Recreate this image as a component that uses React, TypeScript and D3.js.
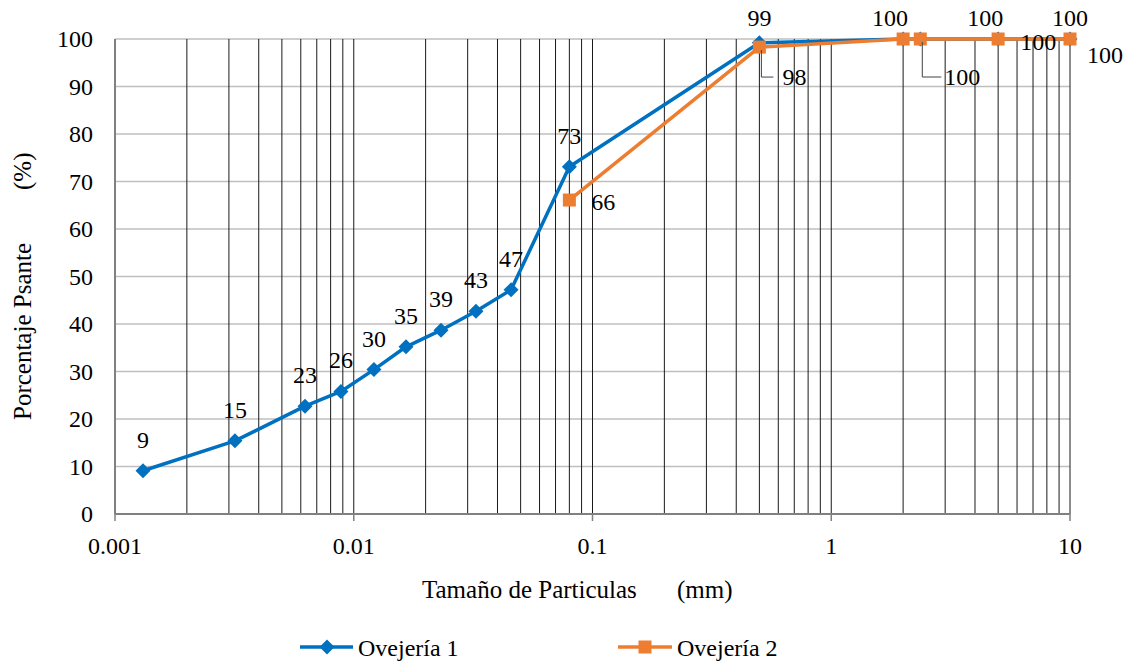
import * as d3 from 'd3';

const width = 1128;
const height = 665;

// Ovejería 1 (tamaño en mm, % que pasa)
const sizes1 = [0.00131, 0.00318, 0.00625, 0.00884, 0.01215, 0.01655, 0.0232, 0.0325, 0.0456, 0.08, 0.5, 2, 2.36, 5, 10];
const pass1 = [9.1, 15.4, 22.7, 25.8, 30.4, 35.2, 38.7, 42.7, 47.2, 73.1, 99.2, 100, 100, 100, 100];
const labels1 = ['9', '15', '23', '26', '30', '35', '39', '43', '47', '73', '99', '100', '', '100', '100'];
const labelDx1 = [0, 0, 0, 0, 0, 0, 0, 0, 0, 0, 0, -13, 0, -13, 0];

// Ovejería 2
const sizes2 = [0.08, 0.5, 2, 2.36, 5, 10];
const pass2 = [66.1, 98.3, 100, 100, 100, 100];
const labels2 = ['66', '98', '', '100', '100', '100'];
const labelDx2 = [34, 35, 0, 42, 40, 35];
const labelDy2 = [2, 30, 0, 38, 3, 16];
const leader2 = [false, true, false, true, false, false];

const yTicks = [0, 10, 20, 30, 40, 50, 60, 70, 80, 90, 100];
const xMajor = [0.001, 0.01, 0.1, 1, 10];
const xLabels = ['0.001', '0.01', '0.1', '1', '10'];

const blue = '#0070C0';
const orange = '#ED7D31';
const txt = { fontFamily: "'Liberation Serif', 'DejaVu Serif', serif", fontSize: 24, fill: '#000' };
const title = { ...txt, fontSize: 25 };

const x = d3.scaleLog().domain([0.001, 10]).range([115, 1070]);
const y = d3.scaleLinear().domain([0, 100]).range([514, 39]);

const diamond = (cx: number, cy: number, r = 7.5) =>
  `M${cx},${cy - r}L${cx + r},${cy}L${cx},${cy + r}L${cx - r},${cy}Z`;

export default function App() {
  const lineGen = d3.line<[number, number]>().x(d => x(d[0])).y(d => y(d[1]));
  const path1 = lineGen(sizes1.map((s, i) => [s, pass1[i]]));
  const path2 = lineGen(sizes2.map((s, i) => [s, pass2[i]]));
  const minor = x.ticks();

  return (
    <svg width={width} height={height} style={{ position: 'absolute', left: 0, top: 0, background: '#fff' }}>
      {/* horizontal grid */}
      {yTicks.map(t => (
        <line key={'h' + t} x1={115} x2={1070} y1={y(t)} y2={y(t)} stroke="#bfbfbf" strokeWidth={1.5} />
      ))}
      {/* vertical grid */}
      {minor.map((t, i) => (
        <line key={'v' + i} x1={x(t)} x2={x(t)} y1={y(100)} y2={y(0)} stroke="#1a1a1a" strokeWidth={1} />
      ))}
      {/* axes */}
      <line x1={115} x2={115} y1={y(100)} y2={y(0)} stroke="#808080" strokeWidth={2} />
      <line x1={115} x2={1070} y1={y(0)} y2={y(0)} stroke="#808080" strokeWidth={2} />
      {xMajor.map(t => (
        <line key={'t' + t} x1={x(t)} x2={x(t)} y1={y(0)} y2={y(0) + 7} stroke="#808080" strokeWidth={1.5} />
      ))}
      {yTicks.map(t => (
        <text key={'yl' + t} x={93} y={y(t) + 8} textAnchor="end" style={txt}>{t}</text>
      ))}
      {xMajor.map((t, i) => (
        <text key={'xl' + t} x={x(t)} y={554} textAnchor="middle" style={txt}>{xLabels[i]}</text>
      ))}

      {/* series 1 */}
      <path d={path1 || ''} fill="none" stroke={blue} strokeWidth={3.5} strokeLinejoin="round" />
      {sizes1.map((s, i) => (
        <path key={'m1' + i} d={diamond(x(s), y(pass1[i]))} fill={blue} />
      ))}
      {/* series 2 */}
      <path d={path2 || ''} fill="none" stroke={orange} strokeWidth={3.5} strokeLinejoin="round" />
      {sizes2.map((s, i) => (
        <rect key={'m2' + i} x={x(s) - 6.5} y={y(pass2[i]) - 6.5} width={13} height={13} fill={orange} />
      ))}

      {/* data labels series 1 */}
      {sizes1.map((s, i) => labels1[i] ? (
        <text key={'l1' + i} x={x(s) + labelDx1[i]} y={Math.max(18, y(pass1[i]) - 31) + 8}
          textAnchor="middle" style={txt}>{labels1[i]}</text>
      ) : null)}
      {/* data labels series 2 */}
      {sizes2.map((s, i) => {
        if (!labels2[i]) return null;
        const px = x(s), py = y(pass2[i]);
        const cx = px + labelDx2[i], cy = py + labelDy2[i];
        return (
          <g key={'l2' + i}>
            {leader2[i] && (
              <polyline points={`${px + 2},${py + 3} ${px + 2},${cy} ${cx - 21},${cy}`}
                fill="none" stroke="#404040" strokeWidth={1} />
            )}
            <text x={cx} y={cy + 8} textAnchor="middle" style={txt}>{labels2[i]}</text>
          </g>
        );
      })}

      {/* axis titles */}
      <text x={422} y={598} style={title}>
        Tamaño de Particulas<tspan x={677}>(mm)</tspan>
      </text>
      <text transform="translate(31,0) rotate(-90)" x={-420} style={title}>
        Porcentaje Psante<tspan x={-190}>(%)</tspan>
      </text>

      {/* legend */}
      <line x1={300} x2={353} y1={647} y2={647} stroke={blue} strokeWidth={3.5} />
      <path d={diamond(327, 647)} fill={blue} />
      <text x={358} y={656} style={txt}>Ovejería 1</text>
      <line x1={618} x2={672} y1={647} y2={647} stroke={orange} strokeWidth={3.5} />
      <rect x={638.5} y={640.5} width={13} height={13} fill={orange} />
      <text x={677} y={656} style={txt}>Ovejería 2</text>
    </svg>
  );
}
